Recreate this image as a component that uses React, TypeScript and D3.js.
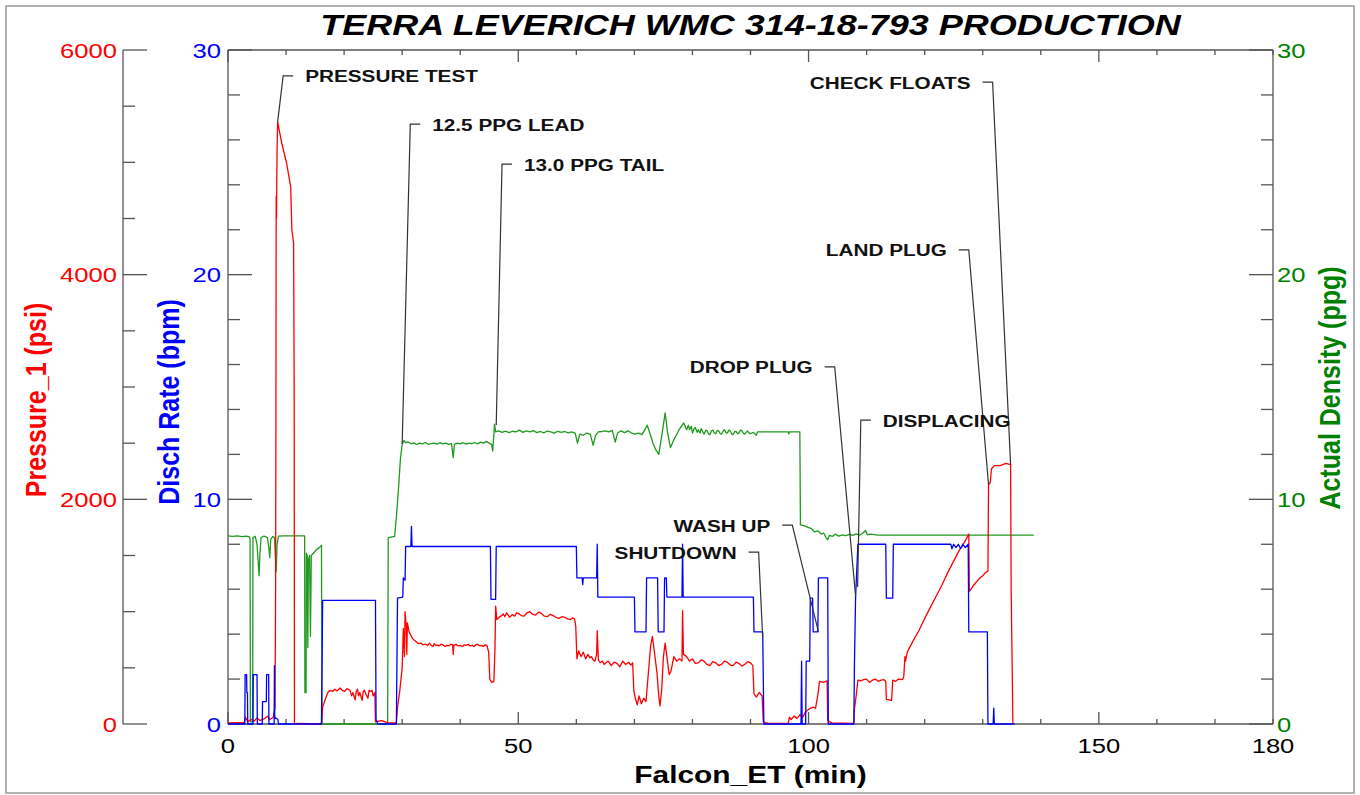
import React from 'react';
import * as d3 from 'd3';

const TITLE = 'TERRA LEVERICH WMC 314-18-793 PRODUCTION';

// [Falcon_ET (min), Pressure_1 (psi)]
const pressure: [number, number][] = [
  [0, 10], [2.8, 15], [3.0, 60], [3.4, 20], [4.0, 40], [4.5, 25], [5.0, 55], [5.5, 30], [6.2, 45],
  [6.8, 70], [7.2, 40], [7.8, 60], [8.1, 150], [8.2, 1200], [8.25, 2600], [8.3, 4700], [8.35, 4500],
  [8.45, 5100], [8.55, 5360], [9.26, 5170], [10.1, 4990], [10.8, 4780], [11.0, 4400], [11.3, 4280],
  [11.4, 3000], [11.45, 0], [12.0, 5], [16.1, 0], [16.3, 150], [16.9, 240], [17.2, 280], [17.6, 300],
  [18.0, 290], [18.4, 310], [18.8, 295], [19.3, 320], [19.7, 300], [20.1, 290], [20.5, 315], [21.0, 300],
  [21.3, 250], [21.5, 280], [21.9, 215], [22.1, 290], [22.3, 310], [22.5, 250], [22.7, 280], [23.1, 210],
  [23.3, 290], [23.5, 300], [23.8, 260], [24.1, 230], [24.3, 300], [24.5, 290], [24.8, 300], [25.0, 250],
  [25.3, 280], [25.4, 20], [26.5, 30], [27.5, 10], [29.0, 10], [29.2, 150], [29.6, 300], [30.0, 500],
  [30.2, 850], [30.4, 600], [30.5, 1000], [30.7, 870], [30.8, 620], [30.9, 900], [31.2, 820], [31.5, 790],
  [31.8, 760], [32.1, 745], [32.5, 730], [32.8, 715], [33.2, 720], [33.6, 705], [34.0, 710], [34.4, 700],
  [34.7, 720], [35.0, 700], [35.3, 690], [35.5, 715], [35.8, 700], [36.0, 705], [36.4, 695], [36.7, 710],
  [37.0, 705], [37.4, 690], [37.7, 700], [38.0, 695], [38.4, 710], [38.7, 705], [38.8, 620], [38.9, 700],
  [39.3, 710], [39.6, 695], [40.0, 700], [40.4, 690], [40.7, 705], [41.0, 700], [41.4, 710], [41.7, 695],
  [42.0, 700], [42.4, 690], [42.7, 705], [43.0, 710], [43.4, 695], [43.7, 700], [44.0, 690], [44.3, 705],
  [44.6, 700], [44.9, 640], [45.1, 400], [45.4, 370], [45.8, 380], [46.0, 700], [46.1, 1050], [46.3, 930],
  [46.7, 950], [47.0, 960], [47.4, 980], [47.7, 955], [48.0, 990], [48.5, 950], [49.0, 975], [49.4, 960],
  [49.7, 990], [50.0, 985], [50.5, 965], [51.0, 960], [51.5, 990], [52.0, 1000], [52.5, 975], [53.0, 970],
  [53.5, 995], [54.0, 985], [54.5, 960], [55.0, 955], [55.5, 975], [56.0, 965], [56.5, 950], [57.0, 940],
  [57.5, 955], [58.0, 950], [58.5, 935], [59.0, 930], [59.4, 945], [59.7, 935], [59.9, 870], [60.1, 580],
  [60.4, 650], [60.8, 600], [61.2, 640], [61.6, 580], [62.0, 620], [62.3, 590], [62.6, 600], [62.9, 570],
  [63.2, 560], [63.5, 620], [63.6, 830], [63.8, 570], [64.1, 545], [64.5, 560], [64.8, 530], [65.0, 540],
  [65.5, 560], [66.0, 520], [66.5, 550], [67.0, 540], [67.5, 510], [68.0, 560], [68.5, 530], [69.0, 550],
  [69.4, 525], [69.7, 545], [69.9, 300], [70.2, 220], [70.5, 170], [70.8, 250], [71.2, 180], [71.6, 230],
  [72.0, 200], [72.4, 450], [72.8, 700], [73.1, 780], [73.5, 620], [73.9, 450], [74.2, 250], [74.4, 160],
  [74.7, 300], [75.0, 600], [75.3, 720], [75.6, 600], [76.0, 440], [76.3, 470], [76.8, 600], [77.3, 560],
  [77.8, 580], [78.2, 560], [78.3, 1010], [78.45, 620], [79.0, 600], [79.5, 560], [80.0, 580], [80.5, 540],
  [81.0, 545], [81.5, 570], [82.0, 560], [82.5, 530], [83.0, 520], [83.5, 555], [84.0, 545], [84.5, 520],
  [85.0, 530], [85.5, 560], [86.0, 550], [86.5, 525], [87.0, 520], [87.5, 550], [88.0, 540], [88.5, 515],
  [89.0, 530], [89.5, 555], [90.0, 545], [90.4, 520], [90.6, 270], [91.0, 240], [91.5, 280], [92.0, 250],
  [92.2, 20], [93.0, 5], [96.5, 5], [96.7, 60], [97.0, 40], [97.5, 70], [98.0, 50], [98.5, 80], [99.0, 60],
  [99.5, 110], [100.0, 130], [100.3, 140], [100.8, 150], [101.2, 140], [101.6, 260], [101.9, 380],
  [102.5, 370], [103.2, 385], [103.3, 30], [104.0, 10], [107.8, 5], [107.9, 130], [108.2, 250], [108.5, 390],
  [109.0, 385], [109.5, 395], [110.0, 400], [110.5, 370], [111.0, 390], [111.5, 400], [112.0, 380],
  [112.5, 390], [113.0, 395], [113.3, 380], [113.4, 220], [114.3, 210], [114.5, 390], [115.0, 380],
  [115.5, 400], [116.2, 395], [116.4, 420], [116.6, 600], [116.7, 560], [117.0, 640], [118.0, 740],
  [119.0, 830], [120.0, 940], [121.0, 1040], [122.0, 1140], [123.0, 1240], [124.0, 1350], [125.0, 1450],
  [126.0, 1550], [127.0, 1630], [127.6, 1690], [127.7, 1180], [128.0, 1200], [128.5, 1240], [129.0, 1270],
  [129.5, 1300], [130.0, 1320], [130.5, 1350], [130.9, 1360], [131.0, 2130], [131.3, 2150], [131.5, 2270],
  [132.0, 2300], [133.0, 2300], [134.0, 2320], [134.8, 2310], [134.9, 1200], [135.2, 0],
];

// [Falcon_ET (min), Disch Rate (bpm)]
const dischRate: [number, number][] = [
  [0, 0], [2.9, 0], [2.95, 2.2], [3.2, 2.2], [3.25, 1.4], [3.35, 1.4], [3.4, 0], [4.3, 0], [4.35, 2.2],
  [5.0, 2.2], [5.05, 0], [5.9, 0], [5.95, 1.0], [6.6, 1.0], [6.65, 2.2], [7.0, 2.2], [7.05, 0], [7.95, 0],
  [8.0, 2.6], [8.05, 0.3], [8.6, 0.2], [8.7, 0], [16.1, 0], [16.2, 2.7], [16.3, 5.5], [25.4, 5.5],
  [25.5, 0.2], [25.8, 0], [29.0, 0], [29.2, 5.6], [30.1, 5.65], [30.2, 6.5], [30.5, 6.4], [30.6, 7.9],
  [31.5, 7.9], [31.6, 8.8], [31.7, 7.9], [45.2, 7.9], [45.3, 5.55], [46.1, 5.55], [46.2, 7.9], [60.0, 7.9],
  [60.1, 6.5], [61.0, 6.5], [61.1, 6.2], [61.2, 6.5], [63.5, 6.5], [63.6, 8.0], [63.7, 5.65], [70.0, 5.65],
  [70.1, 4.1], [72.0, 4.1], [72.1, 6.5], [74.0, 6.5], [74.1, 4.1], [75.1, 4.1], [75.2, 6.5], [75.5, 6.5],
  [75.6, 5.65], [78.2, 5.65], [78.3, 8.0], [78.4, 5.65], [90.5, 5.65], [90.6, 4.1], [92.1, 4.1], [92.3, 0],
  [98.7, 0], [98.8, 2.8], [98.9, 0], [99.5, 0], [99.6, 2.8], [100.2, 2.8], [100.3, 5.6], [100.7, 5.6],
  [100.8, 4.1], [101.6, 4.1], [101.7, 6.5], [103.3, 6.5], [103.4, 0], [107.8, 0], [107.9, 2.6],
  [108.1, 5.65], [108.5, 8.0], [113.3, 8.0], [113.4, 5.6], [114.5, 5.6], [114.6, 8.0], [124.5, 8.0],
  [124.7, 7.8], [125.0, 8.0], [125.4, 7.85], [125.8, 8.0], [126.2, 7.8], [126.6, 8.0], [127.0, 7.85],
  [127.5, 8.0], [127.6, 4.1], [130.8, 4.1], [130.9, 0], [131.8, 0], [131.9, 0.7], [132.0, 0], [135.5, 0],
];

// [Falcon_ET (min), Actual Density (ppg)]
const density: [number, number][] = [
  [0, 8.37], [0.8, 8.35], [1.6, 8.37], [2.4, 8.34], [3.2, 8.36], [3.7, 8.33], [3.8, 8.2], [3.85, 0.1],
  [4.25, 0.1], [4.3, 8.3], [4.7, 8.35], [5.0, 8.0], [5.2, 7.2], [5.35, 6.6], [5.5, 7.6], [5.7, 8.3],
  [6.2, 8.36], [6.8, 8.3], [7.0, 7.9], [7.2, 7.4], [7.35, 8.2], [7.7, 8.35], [8.0, 8.3], [8.15, 7.5],
  [8.3, 6.8], [8.45, 8.0], [8.7, 8.36], [9.5, 8.37], [10.5, 8.37], [11.5, 8.37], [12.5, 8.37], [13.2, 8.37],
  [13.25, 1.4], [13.45, 1.4], [13.5, 7.6], [13.65, 7.5], [13.75, 3.4], [13.85, 7.3], [14.05, 7.5],
  [14.2, 3.9], [14.35, 7.5], [14.7, 7.6], [15.2, 7.75], [15.7, 7.85], [16.1, 7.95], [16.2, 0], [27.5, 0],
  [27.6, 8.3], [28.7, 8.35], [29.0, 9.2], [29.4, 10.6], [29.7, 11.8], [30.0, 12.45], [30.3, 12.62],
  [30.6, 12.52], [31.0, 12.56], [31.5, 12.47], [32.0, 12.51], [32.5, 12.44], [33.0, 12.5], [33.5, 12.47],
  [34.0, 12.53], [34.5, 12.45], [35.0, 12.48], [35.5, 12.5], [36.0, 12.46], [36.5, 12.52], [37.0, 12.47],
  [37.5, 12.5], [38.0, 12.45], [38.5, 12.48], [38.8, 11.85], [39.0, 12.45], [39.5, 12.5], [40.0, 12.47],
  [40.5, 12.52], [41.0, 12.46], [41.5, 12.5], [42.0, 12.48], [42.5, 12.53], [43.0, 12.47], [43.5, 12.55],
  [44.0, 12.5], [44.5, 12.58], [45.0, 12.5], [45.4, 12.45], [45.6, 12.15], [45.8, 12.9], [45.9, 13.35],
  [46.1, 13.0], [46.6, 13.05], [47.2, 12.98], [47.8, 13.04], [48.4, 12.97], [49.0, 13.03], [49.6, 13.0],
  [50.2, 13.08], [50.8, 12.98], [51.4, 13.05], [52.0, 13.0], [52.6, 13.06], [53.2, 12.97], [53.8, 13.02],
  [54.4, 12.96], [55.0, 13.04], [55.6, 13.0], [56.2, 12.95], [56.8, 13.03], [57.4, 12.98], [58.0, 13.02],
  [58.6, 12.96], [59.2, 13.0], [59.8, 12.95], [60.2, 12.5], [60.6, 12.9], [61.2, 12.85], [61.8, 12.95],
  [62.4, 12.9], [62.9, 12.4], [63.3, 12.85], [63.8, 13.0], [64.4, 13.02], [65.0, 13.05], [65.6, 13.0],
  [66.2, 13.07], [66.7, 12.55], [67.1, 12.95], [67.7, 13.05], [68.3, 12.97], [68.9, 13.05], [69.5, 12.95],
  [70.1, 12.9], [70.7, 12.95], [71.3, 12.88], [71.8, 13.1], [72.2, 13.3], [72.6, 13.0], [73.2, 12.5],
  [73.7, 12.2], [74.2, 12.0], [74.7, 12.8], [75.3, 13.85], [75.7, 13.0], [76.2, 12.3], [76.7, 12.6],
  [77.1, 12.8], [77.7, 13.1], [78.5, 13.4], [79.0, 13.1], [79.3, 13.3], [79.5, 13.1], [79.8, 13.25],
  [80.0, 12.95], [80.3, 13.15], [80.5, 13.2], [80.8, 12.98], [81.0, 13.1], [81.3, 12.95], [81.5, 13.15],
  [81.8, 13.0], [82.0, 12.9], [82.3, 13.08], [82.5, 13.05], [82.8, 12.9], [83.0, 12.88], [83.3, 13.06],
  [83.5, 13.08], [83.8, 12.95], [84.0, 12.92], [84.3, 13.07], [84.5, 13.05], [84.8, 12.92], [85.0, 12.9],
  [85.3, 13.04], [85.5, 13.1], [85.8, 12.97], [86.0, 12.95], [86.3, 13.08], [86.5, 13.05], [86.8, 12.9],
  [87.0, 12.88], [87.3, 13.02], [87.5, 13.02], [87.8, 12.92], [88.0, 12.95], [88.3, 13.08], [88.5, 13.06],
  [88.8, 12.93], [89.0, 12.9], [89.3, 13.0], [89.5, 13.04], [89.8, 12.94], [90.0, 12.93], [90.5, 12.98],
  [91.0, 12.85], [91.2, 13.0], [93.0, 13.0], [95.0, 13.0], [96.5, 13.0], [96.6, 12.9], [96.7, 13.0],
  [98.5, 13.0], [98.6, 8.86], [99.3, 8.82], [99.9, 8.75], [100.5, 8.7], [101.0, 8.55], [101.6, 8.6],
  [102.2, 8.45], [102.6, 8.5], [103.0, 8.3], [103.3, 8.2], [103.6, 8.4], [104.1, 8.35], [104.6, 8.45],
  [105.2, 8.36], [105.8, 8.42], [106.4, 8.38], [107.0, 8.44], [107.6, 8.4], [108.2, 8.46], [108.8, 8.41],
  [109.4, 8.5], [109.8, 8.62], [110.1, 8.42], [110.7, 8.45], [112.0, 8.41], [120.0, 8.41], [130.0, 8.41],
  [138.8, 8.41],
];

const pressureTicks = [0, 2000, 4000, 6000];
const rateTicks = [0, 10, 20, 30];
const densityTicks = [0, 10, 20, 30];
const timeTicks = [0, 50, 100, 150, 180];

// event labels: target point on a series, elbow of the leader in (min, 0-30 scale)
const events = [
  { label: 'PRESSURE TEST', on: 'pressure', t: 8.55, v: 5360, cornerT: 9.5, cornerV: 28.85, side: 'right' },
  { label: '12.5 PPG LEAD', on: 'density', t: 30.0, v: 12.45, cornerT: 31.4, cornerV: 26.7, side: 'right' },
  { label: '13.0 PPG TAIL', on: 'density', t: 46.2, v: 13.3, cornerT: 47.2, cornerV: 24.92, side: 'right' },
  { label: 'CHECK FLOATS', on: 'pressure', t: 134.8, v: 2310, cornerT: 131.7, cornerV: 28.57, side: 'left' },
  { label: 'LAND PLUG', on: 'pressure', t: 131.0, v: 2130, cornerT: 127.6, cornerV: 21.1, side: 'left' },
  { label: 'DROP PLUG', on: 'rate', t: 108.1, v: 5.7, cornerT: 104.5, cornerV: 15.9, side: 'left' },
  { label: 'DISPLACING', on: 'rate', t: 108.45, v: 6.1, cornerT: 109.0, cornerV: 13.53, side: 'right' },
  { label: 'WASH UP', on: 'rate', t: 101.7, v: 4.1, cornerT: 97.2, cornerV: 8.85, side: 'left' },
  { label: 'SHUTDOWN', on: 'rate', t: 92.1, v: 3.83, cornerT: 91.4, cornerV: 7.65, side: 'left' },
];

const FONT = '"Liberation Sans", Arial, sans-serif';
const SX = 1.22; // source image is stretched sideways

const RED = '#ff0000';
const BLUE = '#0000ff';
const GREEN = '#008000';
const AXIS = '#555';

const W = 1360;
const H = 795;
const left = 228, right = 1273, top = 50, bottom = 724;
const pAxisX = 123;

const x = d3.scaleLinear().domain([0, 180]).range([left, right]);
const yP = d3.scaleLinear().domain([0, 6000]).range([bottom, top]);
const yR = d3.scaleLinear().domain([0, 30]).range([bottom, top]);
const yD = d3.scaleLinear().domain([0, 30]).range([bottom, top]);

const Txt = ({ x, y, anchor = 'start', size, weight = 'normal', italic = false, fill = '#000', sx = SX, children }: any) => (
  <text
    transform={`translate(${x},${y}) scale(${sx},1)`}
    textAnchor={anchor}
    fontSize={size}
    fontWeight={weight}
    fontStyle={italic ? 'italic' : 'normal'}
    fill={fill}
    fontFamily={FONT}
  >
    {children}
  </text>
);

const VTxt = ({ x, y, fill, children }: any) => (
  <text
    transform={`translate(${x},${y}) scale(1.2,1) rotate(-90)`}
    textAnchor="middle"
    fontSize={25}
    fontWeight="bold"
    fill={fill}
    fontFamily={FONT}
  >
    {children}
  </text>
);

export default function App() {
  const linePath = (y: d3.ScaleLinear<number, number>) =>
    d3.line<[number, number]>().x(d => x(d[0])).y(d => y(d[1]));

  const minorY = d3.range(0, 31, 2);
  const minorP = d3.range(0, 6001, 500);
  const minorT = d3.range(0, 181, 10);

  const yFor = (on: string) => (on === 'pressure' ? yP : on === 'rate' ? yR : yD);

  return (
    <svg width={W} height={H} style={{ position: 'absolute', left: 0, top: 0, display: 'block', background: '#fff' }}>
      <rect x={6} y={6} width={1348} height={787} fill="#fff" stroke="#999" strokeWidth={1.5} />

      <Txt x={(left + right) / 2} y={35} anchor="middle" size={30} weight="bold" italic sx={1.2}>{TITLE}</Txt>

      {/* pressure axis */}
      <g stroke={AXIS} strokeWidth={1.3}>
        <line x1={pAxisX} x2={pAxisX} y1={top} y2={bottom} />
        {minorP.map(v => (
          <line key={v} x1={pAxisX} x2={pAxisX + (v % 2000 === 0 ? 24 : 12)} y1={yP(v)} y2={yP(v)} />
        ))}
      </g>
      {pressureTicks.map(v => (
        <Txt key={v} x={pAxisX - 6} y={yP(v) + 7.5} anchor="end" size={21} fill={RED}>{v}</Txt>
      ))}
      <VTxt x={46} y={400} fill={RED}>Pressure_1 (psi)</VTxt>

      {/* disch rate axis (left frame) */}
      <g stroke={AXIS} strokeWidth={1.3}>
        <line x1={left} x2={left} y1={top} y2={bottom} />
        {minorY.map(v => (
          <line key={v} x1={left} x2={left + (v % 10 === 0 ? 24 : 12)} y1={yR(v)} y2={yR(v)} />
        ))}
      </g>
      {rateTicks.map(v => (
        <Txt key={v} x={left - 7} y={yR(v) + 7.5} anchor="end" size={21} fill={BLUE}>{v}</Txt>
      ))}
      <VTxt x={179} y={402} fill={BLUE}>Disch Rate (bpm)</VTxt>

      {/* density axis (right frame) */}
      <g stroke={AXIS} strokeWidth={1.3}>
        <line x1={right} x2={right} y1={top} y2={bottom} />
        {minorY.map(v => (
          <line key={v} x1={right} x2={right - (v % 10 === 0 ? 24 : 12)} y1={yD(v)} y2={yD(v)} />
        ))}
      </g>
      {densityTicks.map(v => (
        <Txt key={v} x={right + 4} y={yD(v) + 7.5} size={21} fill={GREEN}>{v}</Txt>
      ))}
      <VTxt x={1340} y={388} fill={GREEN}>Actual Density (ppg)</VTxt>

      {/* time axes, top and bottom */}
      <g stroke={AXIS} strokeWidth={1.3}>
        <line x1={left} x2={right} y1={top} y2={top} />
        <line x1={left} x2={right} y1={bottom} y2={bottom} />
        {minorT.map(t => {
          const len = t % 50 === 0 ? 12 : 5;
          return (
            <g key={t}>
              <line x1={x(t)} x2={x(t)} y1={top} y2={top + len} />
              <line x1={x(t)} x2={x(t)} y1={bottom} y2={bottom - len} />
            </g>
          );
        })}
      </g>
      {timeTicks.map(t => (
        <Txt key={t} x={x(t)} y={753} anchor="middle" size={21}>{t}</Txt>
      ))}
      <Txt x={(left + right) / 2} y={783} anchor="middle" size={24.5} weight="bold">Falcon_ET (min)</Txt>

      {/* series */}
      <g fill="none" strokeWidth={1.3} strokeLinejoin="round">
        <path d={linePath(yD)(density) || ''} stroke="#1f9a1f" />
        <path d={linePath(yP)(pressure) || ''} stroke={RED} />
        <path d={linePath(yR)(dischRate) || ''} stroke={BLUE} />
      </g>

      {/* event labels */}
      {events.map(e => {
        const cx = x(e.cornerT);
        const cy = yR(e.cornerV);
        const tx = x(e.t);
        const ty = yFor(e.on)(e.v);
        const dir = e.side === 'right' ? 1 : -1;
        return (
          <g key={e.label}>
            <path
              d={`M${cx + dir * 10},${cy}L${cx},${cy}L${tx},${ty}`}
              fill="none"
              stroke="#333"
              strokeWidth={1.2}
            />
            <Txt
              x={cx + dir * 22}
              y={cy + 6.5}
              anchor={e.side === 'right' ? 'start' : 'end'}
              size={17}
              weight="bold"
              fill="#111"
            >
              {e.label}
            </Txt>
          </g>
        );
      })}
    </svg>
  );
}
